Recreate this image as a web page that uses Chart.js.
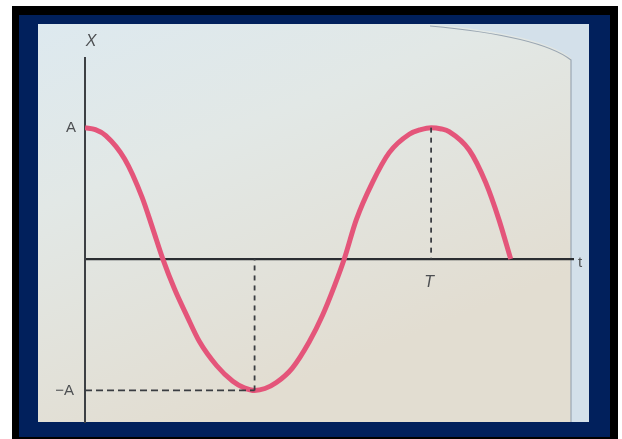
<!DOCTYPE html>
<html>
<head>
<meta charset="utf-8">
<script src="https://cdn.jsdelivr.net/npm/chart.js@4"></script>
<style>
  html, body { margin: 0; padding: 0; background: #fff; }
  #wrap { width: 622px; height: 439px; }
</style>
</head>
<body>
<div id="wrap"><canvas id="waveChart"></canvas></div>
<script>
// time in units of the period T, displacement in units of A
const timeVals = [0, 0.03, 0.06, 0.115, 0.165, 0.196, 0.225, 0.259, 0.294, 0.331, 0.38, 0.427, 0.46, 0.49, 0.52, 0.553, 0.599, 0.648, 0.686, 0.72, 0.749, 0.784, 0.83, 0.879, 0.937, 0.97, 1.0, 1.03, 1.052, 1.11, 1.158, 1.196, 1.23];
const dispVals = [1, 0.985, 0.94, 0.76, 0.47, 0.23, 0, -0.23, -0.43, -0.63, -0.81, -0.93, -0.98, -1, -0.985, -0.94, -0.83, -0.63, -0.43, -0.21, 0, 0.3, 0.58, 0.81, 0.95, 0.985, 1, 0.99, 0.97, 0.83, 0.58, 0.3, 0];

// guide lines: trough time and one period
const troughT = 0.49;
const periodT = 1.0;
const ampl = 1;

const tMax = 1.41;
const yMin = -1.24;
const yMax = 1.53;

const tickText = { top: 'A', bottom: '\u2212A', yName: 'X', xName: 't', period: 'T' };

const curve = timeVals.map((t, i) => ({ x: t, y: dispVals[i] }));
const dashH = [{ x: 0, y: -ampl }, { x: troughT, y: -ampl }];
const dashTrough = [{ x: troughT, y: -ampl }, { x: troughT, y: 0 }];
const dashPeriod = [{ x: periodT, y: ampl }, { x: periodT, y: 0 }];

const framePlugin = {
  id: 'frame',
  beforeDraw(chart) {
    const c = chart.ctx;
    c.save();
    c.fillStyle = '#ffffff';
    c.fillRect(0, 0, 622, 439);
    c.fillStyle = '#000000';
    c.fillRect(12, 6, 606, 433);
    c.fillStyle = '#01205c';
    c.fillRect(19, 15, 591, 422);
    // paper
    const g = c.createLinearGradient(38, 24, 200, 422);
    g.addColorStop(0, '#dde9ef');
    g.addColorStop(0.4, '#e2e8e6');
    g.addColorStop(1, '#e2ddd1');
    c.fillStyle = g;
    c.fillRect(38, 24, 551, 398);
    // page curl on the right
    c.fillStyle = '#d3e0ea';
    c.beginPath();
    c.moveTo(430, 24);
    c.quadraticCurveTo(540, 34, 571, 58);
    c.lineTo(571, 422);
    c.lineTo(589, 422);
    c.lineTo(589, 24);
    c.closePath();
    c.fill();
    c.strokeStyle = '#9aa6b2';
    c.lineWidth = 1.2;
    c.beginPath();
    c.moveTo(430, 26);
    c.quadraticCurveTo(540, 36, 571, 60);
    c.lineTo(571, 422);
    c.stroke();
    c.restore();
  },
  afterDraw(chart) {
    const c = chart.ctx;
    const xs = chart.scales.x;
    const ys = chart.scales.y;
    c.save();
    c.fillStyle = '#4d4f52';
    c.textBaseline = 'middle';
    c.font = '15px "Liberation Sans", sans-serif';
    c.textAlign = 'right';
    c.fillText(tickText.top, xs.left - 9, ys.getPixelForValue(ampl));
    c.fillText(tickText.bottom, xs.left - 11, ys.getPixelForValue(-ampl));
    c.textAlign = 'center';
    c.font = 'italic 16px "Liberation Sans", sans-serif';
    c.fillText(tickText.yName, xs.left + 6, ys.top - 16);
    c.fillText(tickText.period, xs.getPixelForValue(periodT) - 2, ys.getPixelForValue(0) + 23);
    c.font = '15px "Liberation Sans", sans-serif';
    c.fillText(tickText.xName, xs.right + 7, ys.getPixelForValue(0) + 4);
    c.restore();
  }
};

const dashStyle = {
  borderColor: '#3a3d42',
  borderWidth: 1.8,
  pointRadius: 0,
  fill: false,
  tension: 0
};

new Chart(document.getElementById('waveChart'), {
  type: 'line',
  data: {
    datasets: [
      Object.assign({ data: dashH, borderDash: [7, 4] }, dashStyle),
      Object.assign({ data: dashTrough, borderDash: [5, 5] }, dashStyle),
      Object.assign({ data: dashPeriod, borderDash: [5, 5] }, dashStyle),
      {
        data: curve,
        borderColor: '#e4557a',
        borderWidth: 5,
        pointRadius: 0,
        cubicInterpolationMode: 'monotone',
        fill: false
      }
    ]
  },
  options: {
    responsive: true,
    maintainAspectRatio: false,
    animation: false,
    events: [],
    layout: { padding: { left: 85, right: 49, top: 58, bottom: 17 } },
    plugins: { legend: { display: false }, tooltip: { enabled: false } },
    scales: {
      x: {
        type: 'linear',
        min: 0,
        max: tMax,
        position: { y: 0 },
        grid: { display: false, drawTicks: false },
        ticks: { display: false },
        border: { display: true, color: '#2a2d31', width: 2.2 },
        afterFit(s) { s.height = 0; }
      },
      y: {
        type: 'linear',
        min: yMin,
        max: yMax,
        grid: { display: false, drawTicks: false },
        ticks: { display: false },
        border: { display: true, color: '#3d4044', width: 2 },
        afterFit(s) { s.width = 0; }
      }
    }
  },
  plugins: [framePlugin]
});
</script>
</body>
</html>
